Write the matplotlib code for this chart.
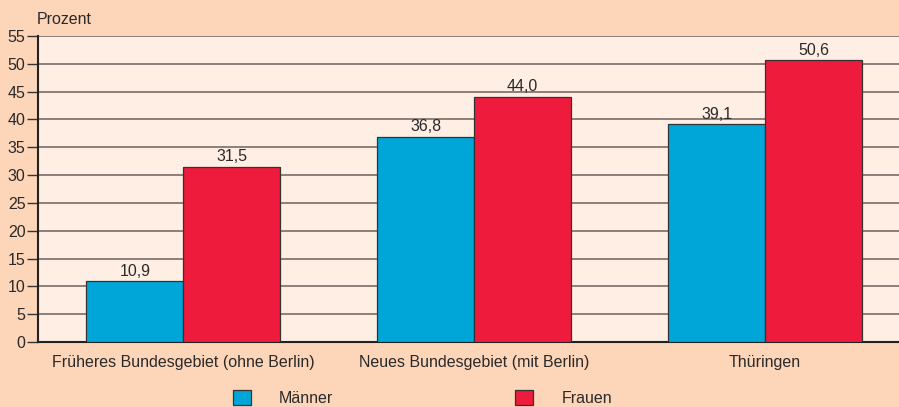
import matplotlib
matplotlib.use("Agg")
import matplotlib.pyplot as plt
import numpy as np

plt.rcParams['font.family'] = ['Liberation Sans', 'DejaVu Sans']

# data
regions = ["Früheres Bundesgebiet (ohne Berlin)", "Neues Bundesgebiet (mit Berlin)", "Thüringen"]
maenner = [10.9, 36.8, 39.1]
frauen = [31.5, 44.0, 50.6]
yticks = [0, 5, 10, 15, 20, 25, 30, 35, 40, 45, 50, 55]

bg = "#FDD5B8"
plot_bg = "#FEEEE4"
blue = "#00A6D8"
red = "#EE1B3C"
text_col = "#2a2a2a"
fs = 11.5

fig = plt.figure(figsize=(8.99, 4.07), dpi=100, facecolor=bg)
ax = fig.add_axes([38 / 899, 65 / 407, 1 - 38 / 899, 306 / 407])
ax.set_facecolor(plot_bg)

x = np.arange(len(regions))
w = 97 / 291
b1 = ax.bar(x - w / 2, maenner, w, color=blue, edgecolor="#333333", linewidth=0.9,
            label="Männer", zorder=3)
b2 = ax.bar(x + w / 2, frauen, w, color=red, edgecolor="#333333", linewidth=0.9,
            label="Frauen", zorder=3)

fmt = lambda v: f"{v:.1f}".replace(".", ",")
ax.bar_label(b1, labels=[fmt(v) for v in maenner], padding=2, fontsize=fs, color=text_col)
ax.bar_label(b2, labels=[fmt(v) for v in frauen], padding=2, fontsize=fs, color=text_col)

ax.set_xlim(-0.5, (899 - 183) / 291)
ax.set_ylim(0, 55)
ax.set_yticks(yticks)
ax.set_yticklabels([str(t) for t in yticks], fontsize=fs, color=text_col)
ax.set_xticks(x)
ax.set_xticklabels(regions, fontsize=fs, color=text_col)
ax.tick_params(axis="x", length=0, pad=9)
ax.tick_params(axis="y", length=8, width=1, color="#333333", pad=1)

ax.yaxis.grid(True, color="#6e625d", linewidth=1.1, zorder=0)
ax.set_axisbelow(True)
for s in ["top", "right"]:
    ax.spines[s].set_visible(False)
ax.spines["left"].set_color("#222222")
ax.spines["left"].set_linewidth(1.5)
ax.spines["bottom"].set_color("#222222")
ax.spines["bottom"].set_linewidth(1.5)

fig.text(37 / 899, 1 - 19 / 407, "Prozent", fontsize=fs, color=text_col, va="center")

fig.legend(handles=[b1, b2], loc="lower left", bbox_to_anchor=(233 / 899, 1 / 407),
           ncol=2, frameon=False, fontsize=fs, borderpad=0, borderaxespad=0,
           handlelength=1.13, handleheight=1.0, handletextpad=1.75, columnspacing=11.4,
           labelcolor=text_col)

fig.savefig("out.png", dpi=100, facecolor=bg)
